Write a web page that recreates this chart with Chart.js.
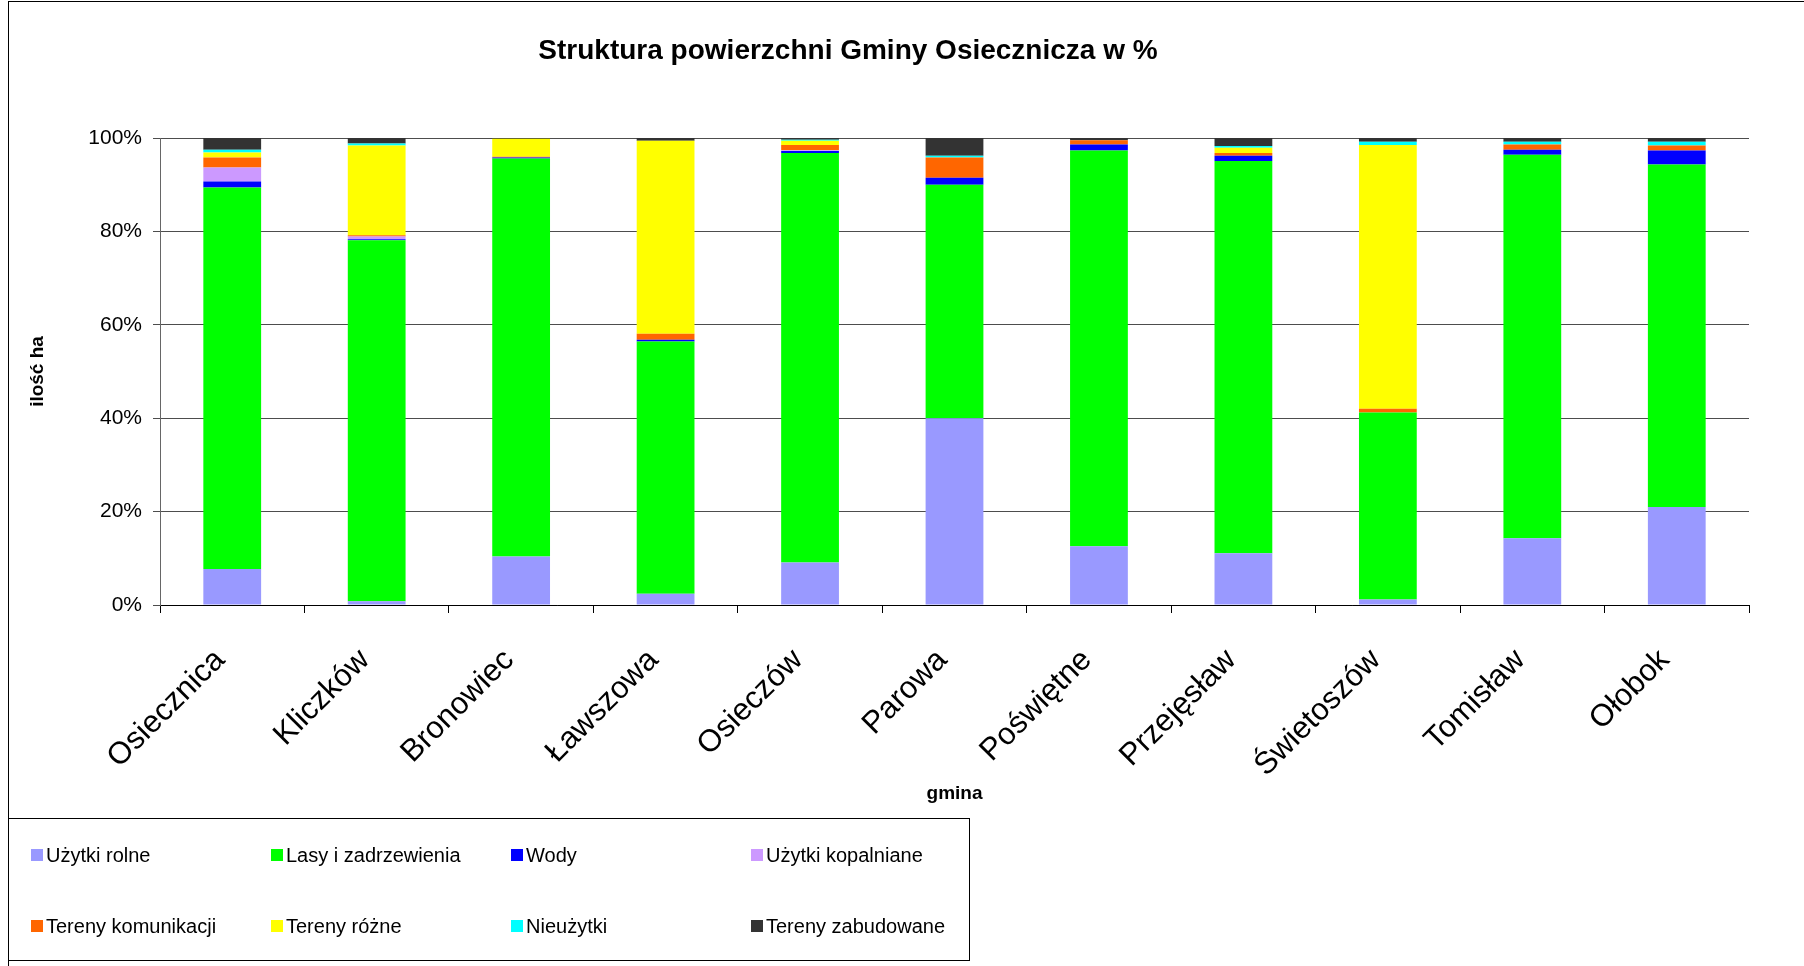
<!DOCTYPE html>
<html>
<head>
<meta charset="utf-8">
<script src="https://cdn.jsdelivr.net/npm/chart.js@4/dist/chart.umd.min.js"></script>
<style>
  html, body { margin: 0; padding: 0; background: #fff; }
  canvas { display: block; }
</style>
</head>
<body>
<canvas id="chartGmina" width="1804" height="966"></canvas>
<script>
// Dane: struktura powierzchni (%) dla poszczególnych sołectw
const gminy = ['Osiecznica', 'Kliczków', 'Bronowiec', 'Ławszowa', 'Osieczów', 'Parowa',
  'Poświętne', 'Przejęsław', 'Świetoszów', 'Tomisław', 'Ołobok'];

const uzytkiRolne       = [7.7, 0.8, 10.4, 2.4, 9.1, 40.0, 12.6, 11.1, 1.2, 14.3, 21.0];
const lasy              = [81.7, 77.3, 85.2, 54.0, 87.7, 50.0, 84.7, 84.0, 40.0, 82.1, 73.3];
const wody              = [1.3, 0.2, 0.2, 0.4, 0.4, 1.5, 1.3, 1.1, 0.0, 1.1, 3.0];
const uzytkiKopalniane  = [3.0, 0.6, 0.0, 0.0, 0.2, 0.0, 0.0, 0.0, 0.0, 0.0, 0.0];
const terenyKomunikacji = [2.1, 0.3, 0.2, 1.3, 1.1, 4.3, 0.9, 0.6, 0.8, 1.1, 1.1];
const terenyRozne       = [1.1, 19.2, 3.85, 41.3, 0.9, 0.0, 0.0, 1.1, 56.5, 0.0, 0.0];
const nieuzytki         = [0.6, 0.4, 0.0, 0.0, 0.2, 0.4, 0.0, 0.4, 0.7, 0.6, 0.8];
const terenyZabudowane  = [2.5, 1.2, 0.15, 0.6, 0.4, 3.8, 0.5, 1.7, 0.8, 0.8, 0.8];

const yTicks = [0, 20, 40, 60, 80, 100];

const tytul = 'Struktura powierzchni Gminy Osiecznicza w %';

const FONT = 'Arial, "Liberation Sans", sans-serif';

const serie = [
  { label: 'Użytki rolne', data: uzytkiRolne, color: '#9999FF' },
  { label: 'Lasy i zadrzewienia', data: lasy, color: '#00FF00' },
  { label: 'Wody', data: wody, color: '#0000FF' },
  { label: 'Użytki kopalniane', data: uzytkiKopalniane, color: '#CC99FF' },
  { label: 'Tereny komunikacji', data: terenyKomunikacji, color: '#FF6600' },
  { label: 'Tereny różne', data: terenyRozne, color: '#FFFF00' },
  { label: 'Nieużytki', data: nieuzytki, color: '#00FFFF' },
  { label: 'Tereny zabudowane', data: terenyZabudowane, color: '#333333' }
];

// Ramka wykresu, tytuł i legenda w prostokącie (2 wiersze x 4 kolumny)
const ramkaLegenda = {
  id: 'ramkaLegenda',
  afterDraw(chart) {
    const ctx = chart.ctx;
    ctx.save();
    ctx.strokeStyle = '#000';
    ctx.lineWidth = 1;
    // ramka zewnętrzna (widoczna lewa i górna krawędź)
    ctx.strokeRect(8.5, 1.5, 1850, 1000);
    // ramka legendy
    ctx.strokeRect(8.5, 818.5, 961, 142);

    // tytuł (Excel wyśrodkowuje go nieco na lewo od środka)
    ctx.fillStyle = '#000';
    ctx.font = 'bold 28px ' + FONT;
    ctx.textAlign = 'center';
    ctx.textBaseline = 'middle';
    ctx.fillText(tytul, 848, 51);

    const kolumny = [31, 271, 511, 751];
    const wiersze = [855, 926];
    ctx.font = '20px ' + FONT;
    ctx.textBaseline = 'middle';
    ctx.textAlign = 'left';
    chart.data.datasets.forEach((ds, i) => {
      const x = kolumny[i % 4];
      const y = wiersze[Math.floor(i / 4)];
      ctx.fillStyle = ds.backgroundColor;
      ctx.fillRect(x, y - 6, 12, 12);
      ctx.fillStyle = '#000';
      ctx.fillText(ds.label, x + 15, y + 1);
    });
    ctx.restore();
  }
};

const ctx = document.getElementById('chartGmina').getContext('2d');

const chartGmina = new Chart(ctx, {
  type: 'bar',
  data: {
    labels: gminy,
    datasets: serie.map(s => ({
      label: s.label,
      data: s.data,
      backgroundColor: s.color,
      borderWidth: 0,
      barPercentage: 0.4,
      categoryPercentage: 1.0
    }))
  },
  options: {
    responsive: false,
    animation: false,
    layout: {
      padding: { left: 10, right: 55, top: 138, bottom: 156 }
    },
    plugins: {
      legend: { display: false },
      tooltip: { enabled: false },
      title: { display: false }
    },
    scales: {
      x: {
        stacked: true,
        afterFit(scale) { scale.height = 205; },
        grid: {
          offset: true,
          drawOnChartArea: false,
          drawTicks: true,
          tickLength: 8,
          color: '#000'
        },
        border: { color: '#000', width: 1 },
        ticks: {
          color: '#000',
          font: { family: FONT, size: 31 },
          minRotation: 45,
          maxRotation: 45,
          autoSkip: false,
          padding: 29,
          labelOffset: -12
        },
        title: {
          display: true,
          text: 'gmina',
          color: '#000',
          font: { family: FONT, size: 19, weight: 'bold' },
          padding: { top: 0, bottom: 5 }
        }
      },
      y: {
        stacked: true,
        min: 0,
        max: 100,
        afterFit(scale) { scale.width = 150; },
        afterBuildTicks(scale) { scale.ticks = yTicks.map(v => ({ value: v })); },
        grid: {
          color: '#4d4d4d',
          lineWidth: 1,
          drawTicks: true,
          tickLength: 7
        },
        border: { color: '#666', width: 1 },
        ticks: {
          color: '#000',
          font: { family: FONT, size: 21 },
          padding: 11,
          callback: v => v + '%'
        },
        title: {
          display: true,
          text: 'ilość ha',
          color: '#000',
          font: { family: FONT, size: 19, weight: 'bold' },
          padding: { top: 16, bottom: 0 }
        }
      }
    }
  },
  plugins: [ramkaLegenda]
});
</script>
</body>
</html>
